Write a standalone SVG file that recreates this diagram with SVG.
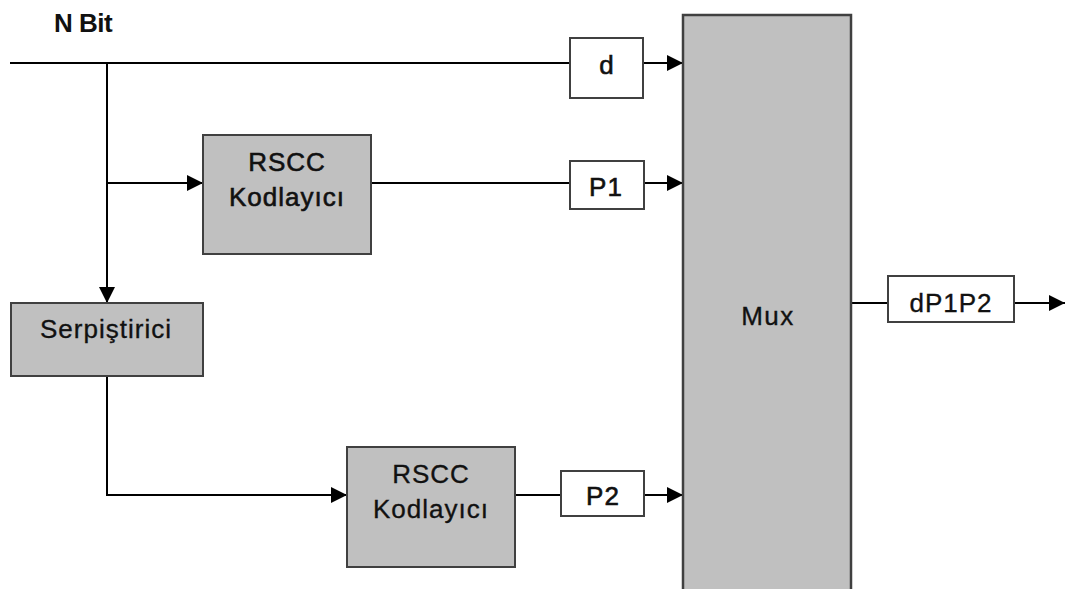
<svg xmlns="http://www.w3.org/2000/svg" width="1066" height="589" viewBox="0 0 1066 589">
<defs>
<marker id="ah" viewBox="0 0 16 16" refX="16" refY="8" markerWidth="16" markerHeight="16" markerUnits="userSpaceOnUse" orient="auto">
<path d="M0,0 L16,8 L0,16 Z" fill="#000"/>
</marker>
</defs>
<style>
.gbox{fill:#c0c0c0;stroke:#404040;stroke-width:2}
.wbox{fill:#fff;stroke:#404040;stroke-width:2}
.ln{fill:none;stroke:#000;stroke-width:2}
.arr{marker-end:url(#ah)}
text{font-family:"Liberation Sans",Arial,sans-serif;font-size:26px;fill:#111;stroke:#111;stroke-width:0.35;text-anchor:middle;letter-spacing:1px}
.b{stroke-width:0.6}
</style>
<rect width="1066" height="589" fill="#fff"/>
<text x="83" y="32" style="font-weight:bold;letter-spacing:-0.5px;stroke-width:0">N Bit</text>
<g id="connectors">
<path class="ln" d="M10,63 H570"/>
<path class="ln arr" d="M643,63 H683"/>
<path class="ln arr" d="M107,63 V303"/>
<path class="ln arr" d="M107,183 H203"/>
<path class="ln" d="M371,183 H570"/>
<path class="ln arr" d="M644,183 H683"/>
<path class="ln arr" d="M107,376 V495 H347"/>
<path class="ln" d="M515,495 H561"/>
<path class="ln arr" d="M644,495 H683"/>
<path class="ln" d="M851,303 H888"/>
<path class="ln arr" d="M1014,303 H1065"/>
</g>
<g id="d">
<rect class="wbox" x="570" y="38" width="73" height="60"/>
<text class="b" x="607" y="74">d</text>
</g>
<g id="mux">
<rect class="gbox" x="683" y="15" width="168" height="580" style="stroke-width:2.5"/>
<text x="768" y="325" style="letter-spacing:1.5px">Mux</text>
</g>
<g id="rscc1">
<rect class="gbox" x="203" y="135" width="168" height="119"/>
<text class="b" x="287" y="171">RSCC</text>
<text class="b" x="287" y="206">Kodlayıcı</text>
</g>
<g id="p1">
<rect class="wbox" x="570" y="161" width="74" height="48"/>
<text class="b" x="606" y="196">P1</text>
</g>
<g id="serpistirici">
<rect class="gbox" x="11" y="303" width="192" height="73"/>
<text x="106" y="338">Serpiştirici</text>
</g>
<g id="rscc2">
<rect class="gbox" x="347" y="447" width="168" height="120"/>
<text x="431" y="483">RSCC</text>
<text x="431" y="518">Kodlayıcı</text>
</g>
<g id="p2">
<rect class="wbox" x="561" y="471" width="83" height="45"/>
<text class="b" x="603" y="505">P2</text>
</g>
<g id="dp1p2">
<rect class="wbox" x="888" y="276" width="126" height="46"/>
<text x="951" y="312">dP1P2</text>
</g>
</svg>
